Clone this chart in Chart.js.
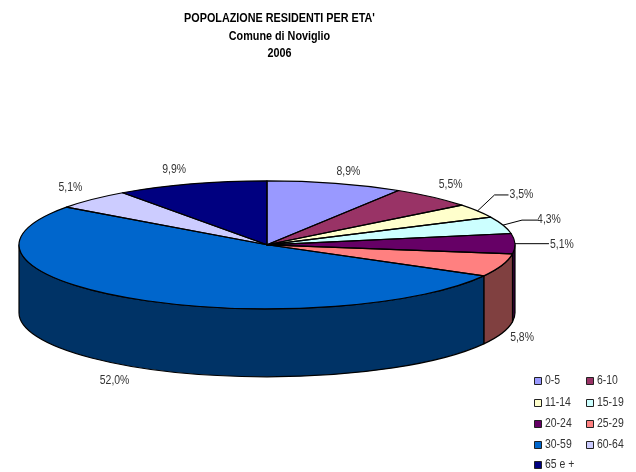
<!DOCTYPE html>
<html>
<head>
<meta charset="utf-8">
<style>html,body{margin:0;padding:0;background:#fff}#w{width:636px;height:472px}canvas{display:block}</style>
<script src="https://cdn.jsdelivr.net/npm/chart.js@4"></script>
</head>
<body>
<div id="w"><canvas id="c" width="636" height="472"></canvas></div>
<script>
const titleLines = ["POPOLAZIONE RESIDENTI PER ETA'", "Comune di Noviglio", "2006"];
const categories = ["0-5","6-10","11-14","15-19","20-24","25-29","30-59","60-64","65 e +"];
const values = [8.9,5.5,3.5,4.3,5.1,5.8,52.0,5.1,9.9];
const colors = ["#9999FF","#993366","#FFFFCC","#CCFFFF","#660066","#FF8080","#0066CC","#CCCCFF","#000080"];
const wallColors = ["#4D4D80","#4D1A33","#808066","#668080","#330033","#804040","#003366","#666680","#000040"];

const FONT = '"Liberation Sans",Arial,sans-serif';
const RADIUS = 248, SQUASH = 64/248, DEPTH = 68;
const TEXT = '#333333';
const NARROW = 0.87;        // horizontal condensing, imitates Arial Narrow
const TITLE_NARROW = 0.9;
const TITLE_CENTER = 279.5;
// label offsets from the rim point at each slice's mid angle, and optional leader line elbow
const labelOffsets = [[13,-12],[18,-12],[44,-16],[46,-5],[47,1],[20,72],[-19,82],[-22,-12],[-17,-14]];
const leaders = {2:[[17,-16],[31,-16]],3:[[19,-5],[34,-5]],4:[[34,0]]};
const legendPos = {x:[534,586], y:[380,402,423,444,464], box:7, gap:4};

function arcs(chart){ return chart.getDatasetMeta(0).data; }
function rim(a){ return [a.x + a.outerRadius*Math.cos((a.startAngle+a.endAngle)/2), a.y + a.outerRadius*SQUASH*Math.sin((a.startAngle+a.endAngle)/2)]; }
function narrowText(ctx,txt,x,y){
  ctx.save(); ctx.translate(x,y); ctx.scale(NARROW,1); ctx.fillText(txt,0,0); ctx.restore();
}

const pie3d = {
  id:'pie3d',
  afterLayout(chart){
    const t = chart.titleBlock;
    if(t && !t._narrow){
      t._narrow = true;
      const orig = t.draw.bind(t);
      t.draw = function(){
        const ctx = chart.ctx, mid = (t.left+t.right)/2;
        ctx.save();
        ctx.translate(TITLE_CENTER,0); ctx.scale(TITLE_NARROW,1); ctx.translate(-mid,0);
        orig();
        ctx.restore();
      };
    }
  },
  beforeDatasetsDraw(chart){
    const ctx = chart.ctx;
    ctx.save();
    ctx.lineWidth = 1.2; ctx.strokeStyle = '#000'; ctx.lineJoin='round';
    arcs(chart).forEach((a,i)=>{
      const s = Math.max(a.startAngle,0), e = Math.min(a.endAngle,Math.PI);
      if(e<=s) return;
      const rx=a.outerRadius, ry=rx*SQUASH;
      ctx.beginPath();
      ctx.ellipse(a.x,a.y,rx,ry,0,s,e);
      ctx.ellipse(a.x,a.y+DEPTH,rx,ry,0,e,s,true);
      ctx.closePath();
      ctx.fillStyle = wallColors[i];
      ctx.fill(); ctx.stroke();
    });
    ctx.restore();
    const a0 = arcs(chart)[0];
    ctx.save();
    ctx.translate(a0.x,a0.y); ctx.scale(1,SQUASH); ctx.translate(-a0.x,-a0.y);
  },
  afterDatasetsDraw(chart){
    const ctx = chart.ctx;
    ctx.restore();
    ctx.save();
    ctx.lineWidth = 1.2; ctx.strokeStyle='#000'; ctx.lineJoin='round';
    arcs(chart).forEach(a=>{
      const rx=a.outerRadius, ry=rx*SQUASH;
      ctx.beginPath();
      ctx.moveTo(a.x,a.y);
      ctx.ellipse(a.x,a.y,rx,ry,0,a.startAngle,a.endAngle);
      ctx.closePath();
      ctx.stroke();
    });
    // value labels and leaders
    ctx.font = '12px '+FONT;
    ctx.textAlign='center'; ctx.textBaseline='middle';
    arcs(chart).forEach((a,i)=>{
      const [rxp,ryp] = rim(a);
      const off = labelOffsets[i];
      if(leaders[i]){
        ctx.beginPath(); ctx.lineWidth=1; ctx.strokeStyle='#000';
        ctx.moveTo(rxp,ryp);
        leaders[i].forEach(p=>ctx.lineTo(rxp+p[0],ryp+p[1]));
        ctx.stroke();
      }
      ctx.fillStyle=TEXT;
      narrowText(ctx,values[i].toFixed(1).replace('.',',')+'%', rxp+off[0], ryp+off[1]);
    });
    // legend
    ctx.textAlign='left';
    categories.forEach((c,i)=>{
      const col=i%2, row=Math.floor(i/2);
      const x=legendPos.x[col], y=legendPos.y[row], b=legendPos.box;
      ctx.fillStyle=colors[i];
      ctx.fillRect(x+.5,Math.round(y-b/2)+.5,b,b);
      ctx.lineWidth=1; ctx.strokeStyle='#222';
      ctx.strokeRect(x+.5,Math.round(y-b/2)+.5,b,b);
      ctx.fillStyle=TEXT;
      narrowText(ctx,c,x+b+legendPos.gap,y+.5);
    });
    ctx.restore();
  }
};

new Chart(document.getElementById('c'),{
  type:'pie',
  data:{labels:categories,datasets:[{data:values,backgroundColor:colors,borderWidth:0,clip:false}]},
  plugins:[pie3d],
  options:{
    responsive:false,
    animation:false,
    radius:RADIUS,
    rotation:0,
    layout:{padding:{left:0,right:102,top:0,bottom:45}},
    plugins:{
      legend:{display:false},
      tooltip:{enabled:false},
      title:{display:true,text:titleLines,color:'#000',
        font:{family:FONT,size:12,weight:'bold',lineHeight:1.46},
        padding:{top:10,bottom:0}}
    }
  }
});
</script>
</body>
</html>
